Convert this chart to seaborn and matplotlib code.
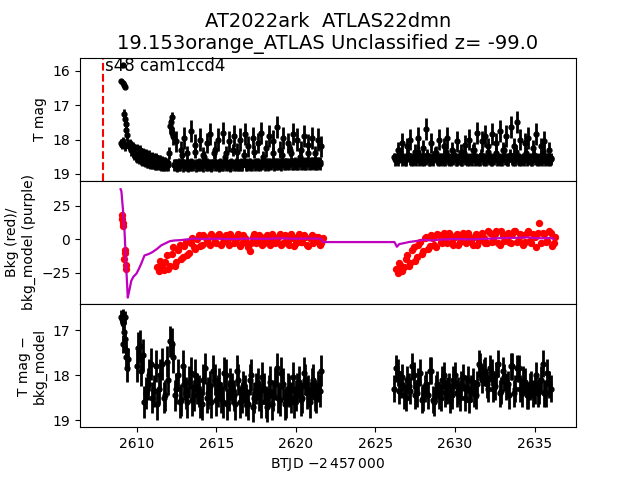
import numpy as np
import pandas as pd
import matplotlib
matplotlib.use('Agg')
import matplotlib.pyplot as plt
import seaborn as sns

title = 'AT2022ark  ATLAS22dmn\n19.153orange_ATLAS Unclassified z= -99.0'
sector_label = 's48 cam1ccd4'
t_sector = 2607.9

# top panel: raw T mag (early burst points, then 0.1 d cadence)
t_top_early = [2609.04, 2609.12, 2609.13, 2609.20, 2609.28, 2609.24, 2609.28, 2609.32,
               2609.36, 2609.40, 2609.02, 2609.10, 2609.18, 2609.30, 2609.44, 2609.50]
mag_top_early = [16.30, 15.83, 16.36, 16.41, 16.46, 17.25, 17.40, 17.55,
                 17.72, 17.88, 18.10, 18.15, 18.05, 18.20, 18.12, 18.18]
err_top_early = [0.05, 0.05, 0.05, 0.05, 0.05, 0.15, 0.15, 0.15,
                 0.15, 0.15, 0.12, 0.12, 0.12, 0.12, 0.12, 0.12]

t0_top1, t0_top2, cad_top = 2609.6, 2626.2, 0.1
mag_top1 = [18.10, 18.22, 18.18, 18.28, 18.25, 18.33, 18.30, 18.38, 18.36, 18.42,
            18.40, 18.46, 18.44, 18.50, 18.48, 18.53, 18.52, 18.56, 18.58, 18.57,
            18.61, 18.63, 18.62, 18.65, 18.68, 17.60, 17.35, 17.90,
            18.68, 18.05, 18.70, 18.72, 18.30, 18.69, 17.95, 18.71, 18.40, 18.70,
            17.75, 18.70, 18.72, 18.15, 18.68, 18.71, 18.00, 18.70, 18.45, 18.72,
            18.10, 18.70, 17.85, 18.71, 18.69, 18.30, 18.72, 18.00, 18.70, 18.71,
            17.80, 18.70, 18.40, 18.72, 18.05, 18.69, 18.70, 17.90, 18.71, 18.35,
            18.70, 18.00, 18.72, 18.69, 17.85, 18.70, 18.20, 18.71, 18.70, 17.95,
            18.69, 18.71, 18.10, 18.70, 17.80, 18.70, 18.68, 18.25, 18.70, 17.90,
            18.69, 18.70, 18.05, 18.68, 17.65, 18.69, 18.30, 18.68, 17.95, 18.69,
            18.67, 18.10, 18.68, 18.40, 17.85, 18.67, 18.68, 18.00, 18.66, 18.30,
            18.67, 17.90, 18.66, 18.65, 18.15, 18.66, 17.95, 18.65, 18.40, 18.64,
            18.00, 18.65, 18.20]
err_top1 = [0.12, 0.13, 0.12, 0.13, 0.12, 0.12, 0.13, 0.12, 0.12, 0.13,
            0.12, 0.12, 0.13, 0.12, 0.12, 0.13, 0.12, 0.12, 0.13, 0.12,
            0.12, 0.13, 0.12, 0.12, 0.12, 0.20, 0.15, 0.25,
            0.12, 0.30, 0.12, 0.12, 0.25, 0.12, 0.32, 0.12, 0.22, 0.12,
            0.32, 0.12, 0.12, 0.30, 0.12, 0.12, 0.32, 0.12, 0.22, 0.12,
            0.30, 0.12, 0.32, 0.12, 0.12, 0.25, 0.12, 0.32, 0.12, 0.12,
            0.32, 0.12, 0.22, 0.12, 0.30, 0.12, 0.12, 0.32, 0.12, 0.25,
            0.12, 0.32, 0.12, 0.12, 0.32, 0.12, 0.30, 0.12, 0.12, 0.32,
            0.12, 0.12, 0.30, 0.12, 0.32, 0.12, 0.12, 0.25, 0.12, 0.32,
            0.12, 0.12, 0.32, 0.12, 0.32, 0.12, 0.25, 0.12, 0.32, 0.12,
            0.12, 0.30, 0.12, 0.22, 0.32, 0.12, 0.12, 0.32, 0.12, 0.25,
            0.12, 0.32, 0.12, 0.12, 0.30, 0.12, 0.32, 0.12, 0.22, 0.12,
            0.32, 0.12, 0.30]
mag_top2 = [18.52, 18.55, 18.30, 18.56, 18.54, 18.10, 18.55, 18.57, 18.20, 18.54,
            18.00, 18.55, 18.56, 18.35, 18.54, 17.95, 18.55, 18.56, 18.25, 18.53,
            17.70, 18.55, 18.54, 18.10, 18.56, 18.55, 18.40, 18.54, 18.00, 18.55,
            18.56, 18.20, 18.54, 17.95, 18.55, 18.53, 18.30, 18.55, 18.54, 18.05,
            18.55, 18.56, 18.35, 18.54, 18.15, 18.55, 18.53, 18.00, 18.55, 18.54,
            18.30, 18.54, 17.80, 18.55, 18.53, 18.05, 18.54, 17.90, 18.55, 18.20,
            18.54, 17.85, 18.55, 18.53, 18.10, 18.54, 17.75, 18.55, 18.30, 18.54,
            17.90, 18.55, 18.53, 17.65, 18.54, 18.20, 18.55, 17.50, 18.54, 18.00,
            18.55, 18.53, 18.10, 18.54, 17.95, 18.55, 18.54, 18.25, 18.53, 17.85,
            18.55, 18.54, 18.20, 18.55, 18.05, 18.53, 18.54, 18.30, 18.55]
err_top2 = [0.12, 0.12, 0.22, 0.12, 0.12, 0.28, 0.12, 0.12, 0.25, 0.12,
            0.30, 0.12, 0.12, 0.22, 0.12, 0.32, 0.12, 0.12, 0.25, 0.12,
            0.32, 0.12, 0.12, 0.28, 0.12, 0.12, 0.22, 0.12, 0.30, 0.12,
            0.12, 0.25, 0.12, 0.32, 0.12, 0.12, 0.22, 0.12, 0.12, 0.30,
            0.12, 0.12, 0.22, 0.12, 0.28, 0.12, 0.12, 0.30, 0.12, 0.12,
            0.22, 0.12, 0.32, 0.12, 0.12, 0.30, 0.12, 0.32, 0.12, 0.25,
            0.12, 0.32, 0.12, 0.12, 0.28, 0.12, 0.32, 0.12, 0.22, 0.12,
            0.32, 0.12, 0.12, 0.32, 0.12, 0.25, 0.12, 0.32, 0.12, 0.30,
            0.12, 0.12, 0.28, 0.12, 0.32, 0.12, 0.12, 0.25, 0.12, 0.32,
            0.12, 0.12, 0.25, 0.12, 0.30, 0.12, 0.12, 0.22, 0.12]
# second set of exposures, offset by half a cadence (faint baseline)
t0_top1b, t0_top2b, err_top_b = 2609.65, 2626.25, 0.18
mag_top1b = [18.30, 18.36, 18.42, 18.47, 18.50, 18.53, 18.56, 18.58, 18.60, 18.62,
             18.64, 18.65, 18.67, 18.68, 18.69, 18.70, 18.71, 18.72, 18.72, 18.73,
             18.73, 18.74, 18.74, 18.74, 18.40, 17.50, 17.80, 18.74,
             18.74, 18.75, 18.73, 18.74, 18.45, 18.75, 18.74, 18.73, 18.75, 18.74,
             18.73, 18.74, 18.35, 18.75, 18.74, 18.73, 18.74, 18.75, 18.50, 18.74,
             18.73, 18.74, 18.75, 18.74, 18.40, 18.73, 18.74, 18.75, 18.73, 18.74,
             18.74, 18.50, 18.73, 18.74, 18.75, 18.73, 18.30, 18.74, 18.73, 18.74,
             18.74, 18.73, 18.74, 18.45, 18.73, 18.74, 18.72, 18.73, 18.74, 18.35,
             18.73, 18.72, 18.73, 18.74, 18.72, 18.50, 18.73, 18.72, 18.73, 18.72,
             18.72, 18.40, 18.73, 18.72, 18.71, 18.72, 18.73, 18.45, 18.72, 18.71,
             18.72, 18.71, 18.30, 18.72, 18.71, 18.70, 18.71, 18.72, 18.50, 18.71,
             18.70, 18.71, 18.70, 18.40, 18.71, 18.70, 18.69, 18.70, 18.71, 18.70,
             18.69, 18.70]
mag_top2b = [18.58, 18.57, 18.59, 18.40, 18.58, 18.57, 18.59, 18.58, 18.45, 18.57,
             18.58, 18.59, 18.57, 18.58, 18.35, 18.59, 18.57, 18.58, 18.59, 18.57,
             18.45, 18.58, 18.59, 18.57, 18.58, 18.40, 18.57, 18.59, 18.58, 18.57,
             18.58, 18.59, 18.35, 18.57, 18.58, 18.59, 18.57, 18.45, 18.58, 18.59,
             18.57, 18.58, 18.59, 18.40, 18.57, 18.58, 18.59, 18.57, 18.58, 18.30,
             18.58, 18.57, 18.59, 18.58, 18.45, 18.57, 18.58, 18.59, 18.35, 18.57,
             18.58, 18.59, 18.57, 18.40, 18.58, 18.57, 18.59, 18.58, 18.30, 18.57,
             18.58, 18.59, 18.45, 18.57, 18.58, 18.59, 18.35, 18.57, 18.58, 18.59,
             18.57, 18.58, 18.40, 18.59, 18.57, 18.58, 18.59, 18.45, 18.57, 18.58,
             18.59, 18.57, 18.58, 18.35, 18.59, 18.57, 18.58, 18.59, 18.57]

# middle panel: background (red) and background model (purple)
t_bkg_early = [2609.08, 2609.10, 2609.12, 2609.14, 2609.26, 2609.28, 2609.22, 2609.34, 2609.36]
bkg_early = [18, 15, 12, 10, -8, -10, -15, -19, -22]
t0_bkg1, t0_bkg2, cad_bkg = 2611.3, 2626.3, 0.2
bkg1 = [-21, -16, -23, -12, -20, -6, -17, -4, -13, -2,
        -10, 1, -7, 3, -4, 2, -3, 4, -2, 3,
        -4, 2, -1, 4, -3, 1, -5, 3, -2, -9,
        2, -3, 3, -4, 1, -2, 4, -3, 2, -4,
        3, -1, 4, -5, 2, -2, 3, -4, 1, -3,
        2, -4, 1]
bkg2 = [-22, -18, -24, -15, -20, -8, -16, -4, -11, 1,
        -7, 3, -4, 4, -2, 5, -3, 3, -4, 4,
        -2, 5, -3, 2, -4, 4, -1, 5, -3, 6,
        -2, 4, -3, 6, -1, 5, -3, 6, -2, 4,
        -4, 5, -1, 4, -6, 12, 5, -2, 6, -5,
        2]
t0_bkg1b, t0_bkg2b = 2611.4, 2626.4
bkg1b = [-24, -19, -17, -22, -11, -20, -8, -15, -5, -12,
         -3, -6, 0, -5, 3, -1, -4, 2, -3, 4,
         -2, 3, -4, 2, -2, 4, -3, 1, -6, -3,
         4, -2, 2, -3, 3, -4, 1, -2, 4, -3,
         2, -4, 1, -3, 4, -2, 2, -5, 3, -1,
         2, -3]
bkg2b = [-25, -20, -21, -12, -18, -6, -13, -2, -9, 2,
         -5, 1, -6, 3, -3, 1, 5, -2, 2, -4,
         3, 1, 5, -2, 2, -4, 3, 1, -3, 5,
         0, 6, -4, 3, 1, -2, 4, 6, -1, 3,
         -2, 6, -3, 2, 5, -3, 4, -1, 5, -3]
t_model = [2609.00, 2609.05, 2609.15, 2609.25, 2609.35, 2609.45, 2609.55, 2609.67,
           2609.80, 2610.00, 2610.15, 2610.30, 2610.50, 2610.75, 2611.00, 2611.30,
           2611.55, 2611.80, 2612.10, 2612.40, 2612.80, 2613.20, 2613.60, 2614.00,
           2615.00, 2616.00, 2617.00, 2618.00, 2619.00, 2620.00, 2621.00, 2621.60,
           2621.70, 2626.20, 2626.35, 2626.50, 2626.80, 2627.10, 2627.40, 2627.70,
           2628.00, 2628.50, 2629.00, 2630.00, 2631.00, 2632.00, 2633.00, 2634.00,
           2634.50, 2635.00, 2635.50, 2636.00, 2636.20]
bkg_model = [37.5, 36.0, 22.0, 5.0, -20.0, -43.5, -38.0, -31.0,
             -28.0, -25.5, -22.0, -18.0, -12.0, -11.0, -9.5, -7.0,
             -4.5, -3.0, -1.3, -0.8, -0.5, 0.0, 0.7, 0.3,
             0.5, 0.2, 0.6, 0.4, 0.8, 0.5, 0.7, 0.5,
             -2.0, -2.0, -5.5, -3.5, -2.8, -2.0, -1.5, -1.0,
             -0.3, -0.8, -0.2, 0.3, 0.0, 0.5, 1.0, 1.2,
             1.5, 1.0, 0.8, 1.0, 0.5]

# bottom panel: T mag - bkg_model
t_cor_early = [2609.05, 2609.08, 2609.12, 2609.15, 2609.18, 2609.22,
               2609.25, 2609.28, 2609.32, 2609.35, 2609.40, 2609.45]
mag_cor_early = [16.70, 16.75, 17.30, 16.68, 16.85, 17.05,
                 16.72, 17.20, 17.45, 17.60, 17.85, 17.65]
err_cor_early = [0.15, 0.15, 0.2, 0.15, 0.15, 0.2, 0.15, 0.2, 0.2, 0.25, 0.3, 0.25]
t0_cor1, t0_cor2, cad_cor = 2610.0, 2626.2, 0.2
err_cor1, err_cor2 = 0.35, 0.30
mag_cor1 = [17.80, 17.35, 17.55, 18.40, 18.00, 18.50, 17.80, 18.30, 17.75, 18.45,
            18.10, 17.30, 18.45, 18.00, 18.55, 18.20, 18.60, 17.95, 18.45, 18.30,
            18.60, 18.10, 18.50, 18.25, 17.90, 18.55, 18.20, 18.60, 18.00, 18.45,
            18.30, 18.65, 18.10, 18.50, 18.35, 18.65, 18.00, 18.50, 18.20, 18.60,
            18.30, 18.70, 18.15, 18.45, 17.85, 18.55, 18.20, 18.60, 18.35, 18.05,
            18.45, 18.15, 18.50, 18.10, 18.35, 18.20, 18.45, 18.25, 17.90]
mag_cor2 = [18.30, 17.95, 18.20, 18.45, 18.10, 18.35, 18.00, 18.40, 17.95, 18.50,
            18.20, 17.90, 18.55, 18.30, 18.45, 18.10, 18.40, 18.25, 18.45, 18.00,
            18.35, 18.20, 18.50, 18.10, 18.30, 18.40, 18.20, 17.80, 17.95, 18.20,
            17.85, 18.30, 18.00, 18.40, 17.90, 18.25, 18.45, 17.80, 18.30, 17.85,
            18.40, 18.15, 18.45, 18.20, 18.35, 18.40, 18.10, 18.40, 17.95, 18.30]
t0_cor1b, t0_cor2b = 2610.1, 2626.3
mag_cor1b = [17.40, 17.90, 18.60, 18.20, 17.75, 18.35, 18.65, 18.00, 18.50, 17.70,
             17.25, 17.60, 18.30, 18.60, 17.80, 18.40, 18.15, 18.55, 18.00, 18.35,
             18.65, 17.85, 18.40, 18.60, 18.10, 18.35, 18.50, 17.95, 18.65, 18.20,
             18.45, 17.90, 18.60, 18.25, 18.55, 18.10, 18.70, 18.30, 18.45, 18.05,
             18.60, 18.35, 18.65, 18.20, 18.50, 17.95, 18.65, 18.30, 18.50, 18.60,
             18.30, 18.55, 17.95, 18.40, 18.60, 18.10, 18.50, 18.35]
mag_cor2b = [17.85, 18.35, 18.05, 18.50, 18.25, 17.80, 18.45, 18.15, 18.55, 18.30,
             18.45, 17.90, 18.60, 18.20, 18.50, 18.00, 18.35, 18.55, 18.10, 18.40,
             18.50, 18.05, 18.30, 18.55, 18.15, 18.45, 17.75, 18.10, 17.90, 18.30,
             17.95, 18.25, 17.75, 18.35, 18.05, 18.20, 17.80, 18.40, 17.85, 18.30,
             18.10, 18.45, 18.25, 18.40, 18.00, 18.35, 17.75, 18.40, 18.20]


def grid(t0, cad, values):
    return np.round(t0 + cad * np.arange(len(values)), 3)


top = pd.DataFrame({
    't': np.concatenate([t_top_early, grid(t0_top1, cad_top, mag_top1), grid(t0_top2, cad_top, mag_top2)]),
    'mag': np.concatenate([mag_top_early, mag_top1, mag_top2]),
    'err': np.concatenate([err_top_early, err_top1, err_top2]),
})
top_b = pd.DataFrame({
    't': np.concatenate([grid(t0_top1b, cad_top, mag_top1b), grid(t0_top2b, cad_top, mag_top2b)]),
    'mag': np.concatenate([mag_top1b, mag_top2b]),
})
bkg = pd.DataFrame({
    't': np.concatenate([t_bkg_early, grid(t0_bkg1, cad_bkg, bkg1), grid(t0_bkg2, cad_bkg, bkg2),
                         grid(t0_bkg1b, cad_bkg, bkg1b), grid(t0_bkg2b, cad_bkg, bkg2b)]),
    'bkg': np.concatenate([bkg_early, bkg1, bkg2, bkg1b, bkg2b]),
})
model = pd.DataFrame({'t': t_model, 'bkg_model': bkg_model})
cor = pd.DataFrame({
    't': np.concatenate([t_cor_early,
                         grid(t0_cor1, cad_cor, mag_cor1), grid(t0_cor1b, cad_cor, mag_cor1b),
                         grid(t0_cor2, cad_cor, mag_cor2), grid(t0_cor2b, cad_cor, mag_cor2b)]),
    'mag': np.concatenate([mag_cor_early, mag_cor1, mag_cor1b, mag_cor2, mag_cor2b]),
    'err': np.concatenate([err_cor_early,
                           np.full(len(mag_cor1) + len(mag_cor1b), err_cor1),
                           np.full(len(mag_cor2) + len(mag_cor2b), err_cor2)]),
})

fig, axes = plt.subplots(3, 1, sharex=True, figsize=(6.4, 4.8), dpi=100)
fig.subplots_adjust(hspace=0)
ax1, ax2, ax3 = axes

ax1.errorbar(top_b['t'], top_b['mag'], yerr=err_top_b, fmt='.', color='k', ms=7, elinewidth=2)
ax1.errorbar(top['t'], top['mag'], yerr=top['err'], fmt='.', color='k', ms=7, elinewidth=2)
ax1.axvline(t_sector, color='r', ls='--', lw=1.5)
ax1.text(t_sector + 0.12, 16.0, sector_label, fontsize=12)
ax1.set_ylim(19.2, 15.62)
ax1.set_yticks([16, 17, 18, 19])
ax1.set_ylabel('T mag')
ax1.set_title(title, fontsize=14)

sns.scatterplot(data=bkg, x='t', y='bkg', color='red', s=28, linewidth=0, ax=ax2, zorder=2)
sns.lineplot(data=model, x='t', y='bkg_model', color='m', lw=1.6, ax=ax2, zorder=3)
ax2.set_ylim(-48.3, 43.8)
ax2.set_yticks([-25, 0, 25])
ax2.set_ylabel('Bkg (red)/\nbkg_model (purple)')

ax3.errorbar(cor['t'], cor['mag'], yerr=cor['err'], fmt='.', color='k', ms=7, elinewidth=2)
ax3.set_ylim(19.16, 16.42)
ax3.set_yticks([17, 18, 19])
ax3.set_ylabel('T mag \u2212\nbkg_model')
ax3.set_xlabel('BTJD $-2\\,457\\,000$')
ax3.set_xlim(2606.45, 2637.6)
ax3.set_xticks([2610, 2615, 2620, 2625, 2630, 2635])

for ax in (ax1, ax2):
    ax.tick_params(axis='x', bottom=False)

fig.savefig('out.png', dpi=100)
